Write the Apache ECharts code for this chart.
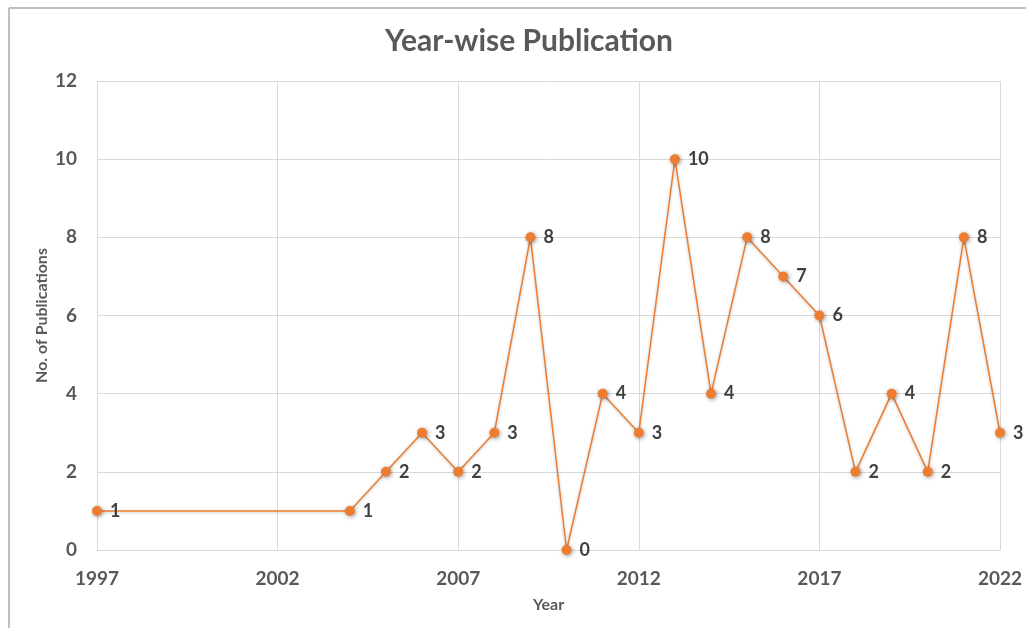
<!DOCTYPE html>
<html>
<head>
<meta charset="utf-8">
<title>Year-wise Publication</title>
<script src="https://cdn.jsdelivr.net/npm/echarts@6/dist/echarts.min.js"></script>
<style>
  html, body { margin: 0; padding: 0; background: #ffffff; }
  #chart { width: 1026px; height: 628px; }
</style>
</head>
<body>
<div id="chart"></div>
<script>
// Years on the horizontal axis (every year, so the axis spacing is even)
const years = [];
for (let y = 1997; y <= 2022; y++) years.push(String(y));

// Publication counts by year (years without an entry are left empty)
const pubYears = [1997, 2004, 2005, 2006, 2007, 2008, 2009, 2010, 2011, 2012,
                  2013, 2014, 2015, 2016, 2017, 2018, 2019, 2020, 2021, 2022];
const pubCounts = [1, 1, 2, 3, 2, 3, 8, 0, 4, 3,
                   10, 4, 8, 7, 6, 2, 4, 2, 8, 3];

const seriesData = years.map(y => {
  const i = pubYears.indexOf(Number(y));
  return i >= 0 ? pubCounts[i] : null;
});

const font = 'Lato, "Open Sans", sans-serif';
const gridColor = '#d9d9d9';
const textColor = '#595959';

const chart = echarts.init(document.getElementById('chart'), null, { renderer: 'canvas' });
chart.setOption({
  backgroundColor: '#ffffff',
  animation: false,
  title: {
    text: 'Year-wise Publication',
    left: 524,
    textAlign: 'center',
    top: 21,
    textStyle: { fontFamily: font, fontWeight: 'bold', fontSize: 30, color: textColor }
  },
  graphic: [
    { type: 'line', shape: { x1: 9, y1: 8, x2: 1026, y2: 8 }, style: { stroke: '#bfbfbf', lineWidth: 2 } },
    { type: 'line', shape: { x1: 9, y1: 8, x2: 9, y2: 628 }, style: { stroke: '#bfbfbf', lineWidth: 2 } }
  ],
  grid: { left: 97, right: 26, top: 81, bottom: 78, containLabel: false },
  xAxis: {
    type: 'category',
    data: years,
    boundaryGap: false,
    name: 'Year',
    nameLocation: 'middle',
    nameGap: 47,
    nameMoveOverlap: false,
    nameTextStyle: { fontFamily: font, fontWeight: 'bold', fontSize: 16, color: textColor },
    axisLine: { show: true, lineStyle: { color: gridColor, width: 1 } },
    axisTick: { show: false },
    axisLabel: { interval: 4, margin: 19, fontFamily: font, fontWeight: 'bold', fontSize: 19, color: textColor },
    splitLine: { show: true, interval: 4, lineStyle: { color: gridColor, width: 1 } }
  },
  yAxis: {
    type: 'value',
    min: 0,
    max: 12,
    interval: 2,
    name: 'No. of Publications',
    nameLocation: 'middle',
    nameGap: 47,
    nameMoveOverlap: false,
    nameTextStyle: { fontFamily: font, fontWeight: 'bold', fontSize: 16, color: textColor },
    axisLine: { show: false },
    axisTick: { show: false },
    axisLabel: { margin: 20, fontFamily: font, fontWeight: 'bold', fontSize: 19, color: textColor },
    splitLine: { show: true, lineStyle: { color: gridColor, width: 1 } }
  },
  series: [{
    type: 'line',
    data: seriesData,
    connectNulls: true,
    symbol: 'circle',
    symbolSize: 10,
    lineStyle: { color: '#ED7D31', width: 1.5, shadowColor: 'rgba(0,0,0,0.25)', shadowBlur: 3, shadowOffsetY: 1 },
    itemStyle: { color: '#ED7D31', shadowColor: 'rgba(0,0,0,0.4)', shadowBlur: 4, shadowOffsetX: 1, shadowOffsetY: 1 },
    label: {
      show: true,
      position: 'right',
      distance: 8,
      fontFamily: font,
      fontWeight: 'bold',
      fontSize: 18,
      color: '#404040'
    }
  }]
});
</script>
</body>
</html>
